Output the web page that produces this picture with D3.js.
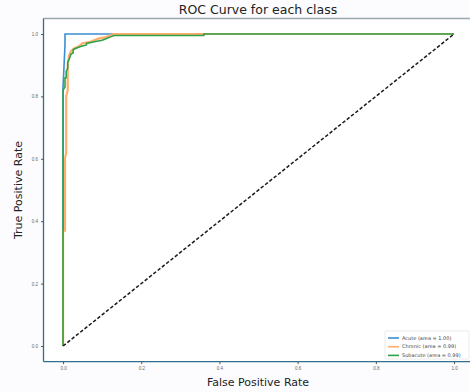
<!doctype html>
<html>
<head>
<meta charset="UTF-8" />
<script src="https://d3js.org/d3.v7.min.js"></script>
<style>
  body { margin: 0; background: #fcfcfe; }
  svg { display: block; font-family: "DejaVu Sans", sans-serif; }
</style>
</head>
<body>
<svg id="chart" width="470" height="392"></svg>
<script>
(function(){
  "use strict";

  // ROC points: [fpr, tpr]
  const acute = [[0,0],[0,0.83],[0.005,0.965],[0.005,1.0],[1,1]];
  const chronic = [[0,0],[0,0.37],[0.005,0.37],[0.005,0.6],[0.008,0.62],[0.008,0.8],
    [0.012,0.82],[0.012,0.9],[0.015,0.93],[0.02,0.945],[0.03,0.955],[0.04,0.96],
    [0.05,0.97],[0.07,0.975],[0.09,0.985],[0.11,0.99],[0.13,1.0],[0.36,1.0],[1,1]];
  const subacute = [[0,0],[0,0.82],[0.005,0.83],[0.005,0.86],[0.008,0.86],[0.008,0.88],
    [0.012,0.89],[0.012,0.91],[0.016,0.92],[0.02,0.935],[0.026,0.94],[0.026,0.95],
    [0.035,0.955],[0.045,0.96],[0.06,0.965],[0.06,0.97],[0.08,0.975],[0.1,0.98],
    [0.11,0.985],[0.12,0.99],[0.13,0.995],[0.36,0.995],[0.36,1.0],[1,1]];
  const diagonal = [[0,0],[1,1]];

  const names = ["Acute (area = 1.00)", "Chronic (area = 0.99)", "Subacute (area = 0.99)"];
  const colors = ["#3c8fd2", "#ffae6c", "#2ca34a"];
  const ticks = [0.0, 0.2, 0.4, 0.6, 0.8, 1.0];

  const svg = d3.select("#chart");
  const x = d3.scaleLinear().domain([-0.05, 1.05]).range([43.5, 473.6]);
  const y = d3.scaleLinear().domain([-0.05, 1.05]).range([361.6, 18.4]);

  // axes background
  svg.append("rect").attr("x", x(-0.05)).attr("y", y(1.05))
     .attr("width", x(1.05) - x(-0.05)).attr("height", y(-0.05) - y(1.05))
     .attr("fill", "#ffffff");

  const line = d3.line().x(d => x(d[0])).y(d => y(d[1]));

  const series = [acute, chronic, subacute];
  series.forEach(function(s, i){
    svg.append("path").datum(s).attr("d", line)
       .attr("fill", "none").attr("stroke", colors[i])
       .attr("stroke-width", i === 1 ? 2.2 : 1.6);
  });

  svg.append("path").datum(diagonal).attr("d", line)
     .attr("fill", "none").attr("stroke", "#1a1a1a")
     .attr("stroke-width", 1.5).attr("stroke-dasharray", "3.5,2");

  // spines
  svg.append("line").attr("x1", x(-0.05)).attr("x2", x(1.05)).attr("y1", y(1.05)).attr("y2", y(1.05))
     .attr("stroke", "#9aa6b0").attr("stroke-width", 1.5);
  svg.append("line").attr("x1", x(-0.05)).attr("x2", x(-0.05)).attr("y1", y(1.05)).attr("y2", y(-0.05))
     .attr("stroke", "#2f6f90").attr("stroke-width", 1.3);
  svg.append("line").attr("x1", x(-0.05)).attr("x2", x(1.05)).attr("y1", y(-0.05)).attr("y2", y(-0.05))
     .attr("stroke", "#2f6f90").attr("stroke-width", 1.3);

  // axes
  const xAxis = d3.axisBottom(x).tickValues(ticks).tickFormat(d3.format(".1f")).tickSize(2.5).tickPadding(3);
  const yAxis = d3.axisLeft(y).tickValues(ticks).tickFormat(d3.format(".1f")).tickSize(2.5).tickPadding(3);
  const gx = svg.append("g").attr("transform", "translate(0," + y(-0.05) + ")").call(xAxis);
  const gy = svg.append("g").attr("transform", "translate(" + x(-0.05) + ",0)").call(yAxis);
  [gx, gy].forEach(function(g){
    g.select(".domain").remove();
    g.selectAll(".tick line").attr("stroke", "#555");
    g.selectAll(".tick text").attr("fill", "#666").style("font-size", "4.5px");
  });

  // titles
  svg.append("text").attr("x", 258).attr("y", 14).attr("text-anchor", "middle")
     .style("font-size", "12.5px").attr("fill", "#222").text("ROC Curve for each class");
  svg.append("text").attr("x", 258).attr("y", 386).attr("text-anchor", "middle")
     .style("font-size", "11px").attr("fill", "#222").text("False Positive Rate");
  svg.append("text").attr("transform", "translate(22," + 190 + ") rotate(-90)")
     .attr("text-anchor", "middle").style("font-size", "11px").attr("fill", "#222")
     .text("True Positive Rate");

  // legend
  const lg = svg.append("g").attr("transform", "translate(385,331)");
  lg.append("rect").attr("width", 84).attr("height", 28).attr("rx", 1.5)
    .attr("fill", "#ffffff").attr("stroke", "#dddddd").attr("stroke-width", 0.6);
  names.forEach(function(n, i){
    const yy = 7 + i * 8.7;
    lg.append("line").attr("x1", 3).attr("x2", 14).attr("y1", yy).attr("y2", yy)
      .attr("stroke", colors[i]).attr("stroke-width", 1.6);
    lg.append("text").attr("x", 17).attr("y", yy + 1.7)
      .style("font-size", "5px").attr("fill", "#444").text(n);
  });
})();
</script>
</body>
</html>
